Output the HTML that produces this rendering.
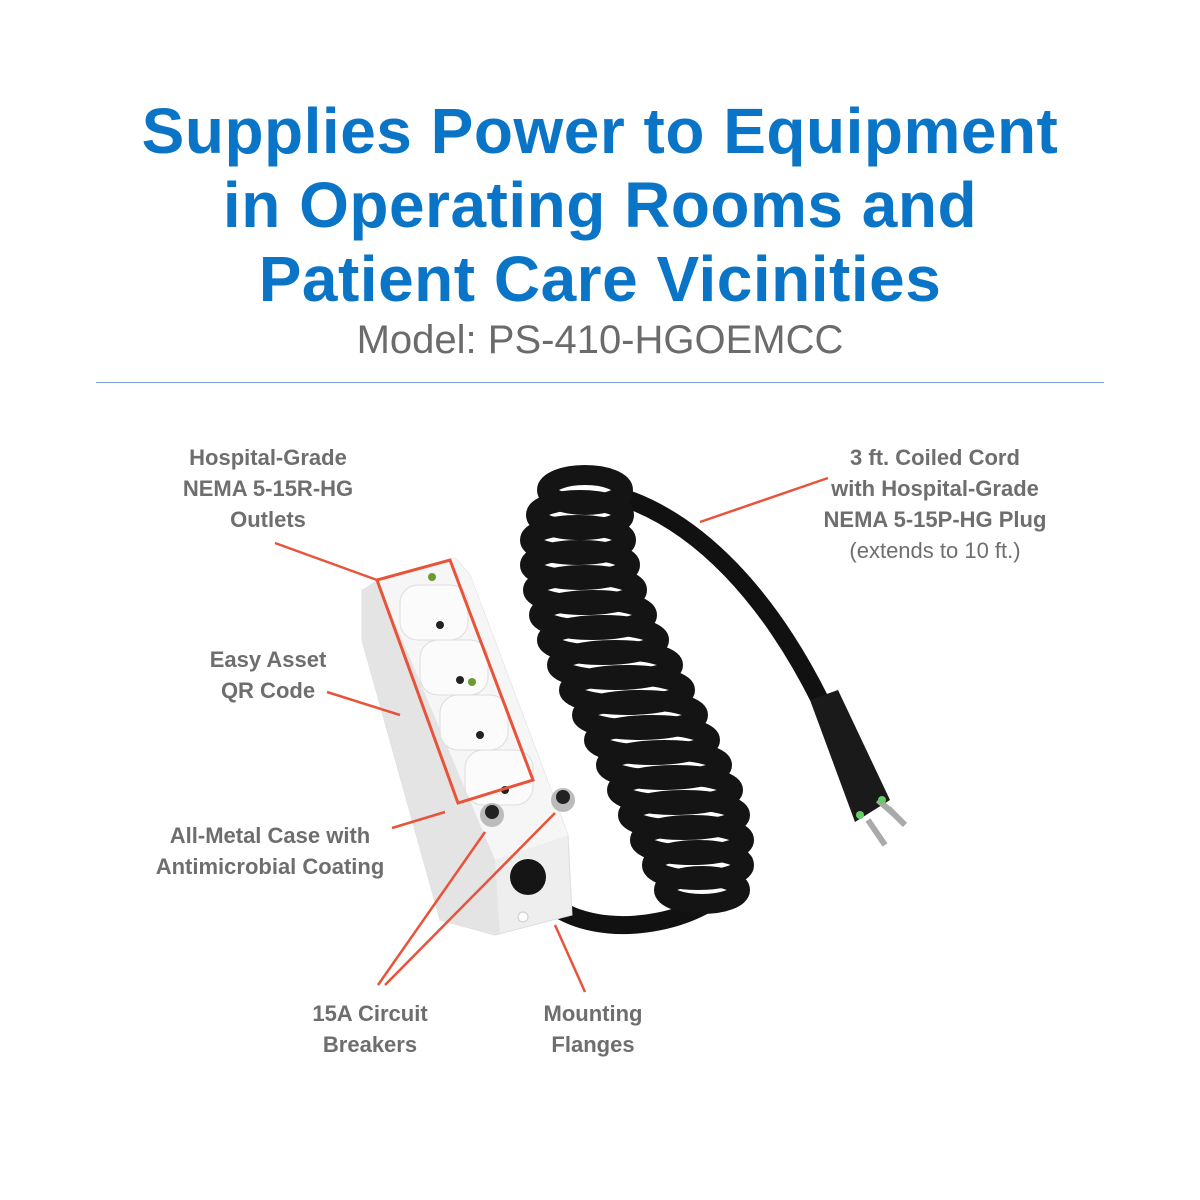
<!DOCTYPE html>
<html><head><meta charset="utf-8"><style>
body{margin:0;width:1200px;height:1200px;background:#fff;position:relative;overflow:hidden;font-family:"Liberation Sans",sans-serif}
.t{position:absolute;left:0;width:1200px;text-align:center;color:#0a75c6;font-weight:bold;font-size:64px;letter-spacing:0.5px}
.m{position:absolute;left:0;width:1200px;text-align:center;color:#6b6b6b;font-size:40px;top:318px}
.l{position:absolute;color:#6e6e6e;font-weight:bold;font-size:22px;line-height:31px;text-align:center}
</style></head><body>
<div class="t" style="top:94px">Supplies Power to Equipment</div>
<div class="t" style="top:168px">in Operating Rooms and</div>
<div class="t" style="top:242px">Patient Care Vicinities</div>
<div class="m">Model: PS-410-HGOEMCC</div>
<div style="position:absolute;left:96px;top:382px;width:1008px;height:1px;background:#7aa6cf"></div>
<div class="l" style="left:150px;top:442px;width:236px">Hospital-Grade<br>NEMA 5-15R-HG<br>Outlets</div>
<div class="l" style="left:178px;top:644px;width:180px">Easy Asset<br>QR Code</div>
<div class="l" style="left:130px;top:820px;width:280px">All-Metal Case with<br>Antimicrobial Coating</div>
<div class="l" style="left:280px;top:998px;width:180px">15A Circuit<br>Breakers</div>
<div class="l" style="left:510px;top:998px;width:166px">Mounting<br>Flanges</div>
<div class="l" style="left:790px;top:442px;width:290px">3 ft. Coiled Cord<br>with Hospital-Grade<br>NEMA 5-15P-HG Plug<br><span style="font-weight:normal">(extends to 10 ft.)</span></div>
<svg width="1200" height="1200" style="position:absolute;left:0;top:0">
<!-- cords -->
<path d="M615,495 C700,520 770,600 820,700" stroke="#111" stroke-width="18" fill="none"/>
<path d="M530,880 C560,935 650,935 705,905" stroke="#111" stroke-width="18" fill="none"/>
<g fill="none" stroke="#141414" stroke-width="20">
<ellipse cx="585" cy="490" rx="38" ry="15"/>
<ellipse cx="580" cy="515" rx="44" ry="15"/>
<ellipse cx="578" cy="540" rx="48" ry="15"/>
<ellipse cx="580" cy="565" rx="50" ry="15"/>
<ellipse cx="585" cy="590" rx="52" ry="15"/>
<ellipse cx="593" cy="615" rx="54" ry="15"/>
<ellipse cx="603" cy="640" rx="56" ry="15"/>
<ellipse cx="615" cy="665" rx="58" ry="15"/>
<ellipse cx="627" cy="690" rx="58" ry="15"/>
<ellipse cx="640" cy="715" rx="58" ry="15"/>
<ellipse cx="652" cy="740" rx="58" ry="15"/>
<ellipse cx="664" cy="765" rx="58" ry="15"/>
<ellipse cx="675" cy="790" rx="58" ry="15"/>
<ellipse cx="684" cy="815" rx="56" ry="15"/>
<ellipse cx="692" cy="840" rx="52" ry="15"/>
<ellipse cx="698" cy="865" rx="46" ry="15"/>
<ellipse cx="702" cy="890" rx="38" ry="14"/>
</g>
<!-- plug -->
<path d="M810,700 L838,690 L890,800 L855,822 Z" fill="#1a1a1a"/>
<path d="M868,820 L885,845 M888,808 L905,825 M878,800 L895,815" stroke="#aaa" stroke-width="6"/>
<circle cx="860" cy="815" r="4" fill="#6c6"/><circle cx="882" cy="800" r="4" fill="#6c6"/>
<!-- strip -->
<path d="M362,590 L455,558 L470,575 L568,835 L572,915 L495,935 L440,920 L362,640 Z" fill="#eeeeee" stroke="#ddd"/>
<path d="M377,580 L455,558 L470,575 L568,835 L495,860 Z" fill="#f6f6f6"/>
<path d="M362,590 L377,580 L495,860 L500,935 L440,920 L362,640 Z" fill="#e4e4e4"/>
<g fill="#fbfbfb" stroke="#ddd">
<rect x="400" y="585" width="68" height="55" rx="18"/>
<rect x="420" y="640" width="68" height="55" rx="18"/>
<rect x="440" y="695" width="68" height="55" rx="18"/>
<rect x="465" y="750" width="68" height="55" rx="18"/>
</g>
<g fill="#222"><circle cx="440" cy="625" r="4"/><circle cx="460" cy="680" r="4"/><circle cx="480" cy="735" r="4"/><circle cx="505" cy="790" r="4"/></g>
<circle cx="432" cy="577" r="4" fill="#6a9a30"/><circle cx="472" cy="682" r="4" fill="#6a9a30"/>
<polygon points="377,580 450,560 533,780 458,803" fill="none" stroke="#e8533a" stroke-width="3"/>
<circle cx="492" cy="815" r="12" fill="#bbb"/><circle cx="492" cy="812" r="7" fill="#222"/>
<circle cx="563" cy="800" r="12" fill="#bbb"/><circle cx="563" cy="797" r="7" fill="#222"/>
<circle cx="528" cy="877" r="18" fill="#151515"/>
<circle cx="523" cy="917" r="5" fill="#fff" stroke="#ccc"/>
<!-- leaders -->
<g stroke="#e8533a" stroke-width="2.5" fill="none">
<line x1="275" y1="543" x2="377" y2="580"/>
<line x1="327" y1="692" x2="400" y2="715"/>
<line x1="392" y1="828" x2="445" y2="812"/>
<line x1="378" y1="985" x2="485" y2="832"/>
<line x1="385" y1="985" x2="555" y2="813"/>
<line x1="585" y1="992" x2="555" y2="925"/>
<line x1="700" y1="522" x2="828" y2="478"/>
</g>
</svg>
</body></html>
